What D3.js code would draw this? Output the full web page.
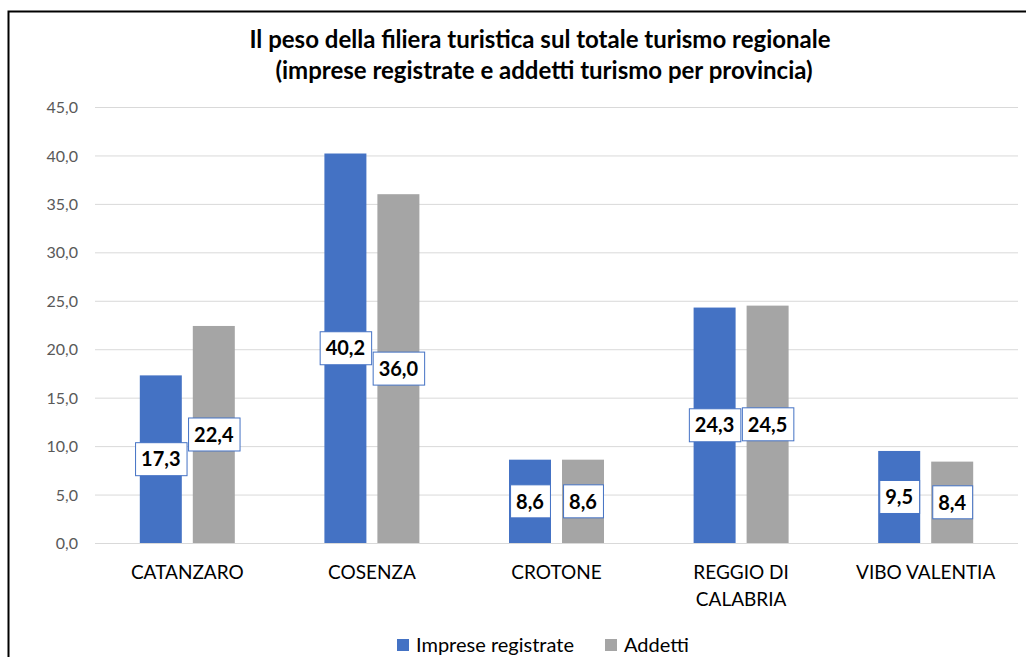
<!DOCTYPE html>
<html>
<head>
<meta charset="utf-8">
<script src="https://d3js.org/d3.v7.min.js"></script>
<style>
body { margin: 0; background: #fff; }
text { font-family: Lato, "Open Sans", sans-serif; }
.grid line { stroke: #d9d9d9; stroke-width: 1; }
.grid path { display: none; }
.yaxis text { fill: #595959; font-size: 16px; }
.yaxis path, .yaxis line { display: none; }
.xlab { fill: #000; font-size: 19px; }
.vlabel { font-size: 20px; font-weight: bold; fill: #000; }
.title { font-size: 24px; font-weight: bold; fill: #000; }
.legend text { font-size: 20px; fill: #000; }
</style>
</head>
<body>
<script>

// dati: peso della filiera turistica per provincia (%)
var province = ["CATANZARO", "COSENZA", "CROTONE", "REGGIO DI CALABRIA", "VIBO VALENTIA"];
var imprese = [17.3, 40.2, 8.6, 24.3, 9.5];
var addetti = [22.4, 36.0, 8.6, 24.5, 8.4];
var serie = ["Imprese registrate", "Addetti"];
var colori = ["#4472c4", "#a5a5a5"];
var yTicks = [0, 5, 10, 15, 20, 25, 30, 35, 40, 45];

var width = 1026,
    height = 657,
    margin = {top: 107, right: 8, bottom: 114, left: 95};

var svg = d3.select("body").append("svg")
  .attr("width", width)
  .attr("height", height);

// cornice esterna
svg.append("rect")
  .attr("x", 8.5).attr("y", 11.5)
  .attr("width", width).attr("height", height)
  .attr("fill", "none")
  .attr("stroke", "#000")
  .attr("stroke-width", 2);

var title = svg.append("text")
  .attr("class", "title")
  .attr("text-anchor", "middle");
title.append("tspan").attr("x", 540).attr("y", 48)
  .text("Il peso della filiera turistica sul totale turismo regionale");
title.append("tspan").attr("x", 544).attr("y", 79)
  .text("(imprese registrate e addetti turismo per provincia)");

var x = d3.scaleBand()
  .domain(province)
  .range([margin.left, width - margin.right]);

var y = d3.scaleLinear()
  .domain([0, 45])
  .range([height - margin.bottom, margin.top]);

var barW = 42, gap = 11;
var xs = d3.scaleOrdinal().domain([0, 1])
  .range([-gap / 2 - barW, gap / 2]);

svg.append("g")
  .attr("class", "grid")
  .attr("transform", "translate(" + margin.left + ",0)")
  .call(d3.axisRight(y).tickValues(yTicks).tickSize(x.range()[1] - margin.left).tickFormat(""));

svg.append("g")
  .attr("class", "yaxis")
  .attr("transform", "translate(81,0)")
  .call(d3.axisLeft(y).tickValues(yTicks).tickSize(0)
    .tickFormat(function(d) { return d.toFixed(1).replace(".", ","); }))
  .selectAll("text").attr("dy", "0.35em");

var rows = province.map(function(p, i) {
  return {p: p, vals: [imprese[i], addetti[i]]};
});

var groups = svg.selectAll(".cat")
  .data(rows)
  .enter().append("g")
  .attr("class", "cat")
  .attr("transform", function(d) {
    return "translate(" + (x(d.p) + x.bandwidth() / 2) + ",0)";
  });

groups.selectAll("rect.bar")
  .data(function(d) { return d.vals; })
  .enter().append("rect")
  .attr("class", "bar")
  .attr("x", function(d, i) { return xs(i); })
  .attr("y", function(d) { return y(d); })
  .attr("width", barW)
  .attr("height", function(d) { return y(0) - y(d); })
  .attr("fill", function(d, i) { return colori[i]; });

// etichette dati al centro della barra
var lab = groups.selectAll("g.lab")
  .data(function(d) { return d.vals; })
  .enter().append("g")
  .attr("class", "lab")
  .attr("transform", function(d, i) {
    return "translate(" + (xs(i) + barW / 2) + "," + y(d / 2) + ")";
  });

lab.append("rect")
  .attr("fill", "#fff")
  .attr("stroke", "#4472c4")
  .attr("stroke-width", 1);

lab.append("text")
  .attr("class", "vlabel")
  .attr("text-anchor", "middle")
  .attr("dy", "0.36em")
  .text(function(d) { return d.toFixed(1).replace(".", ","); });

lab.each(function() {
  var g = d3.select(this);
  var w = g.select("text").node().getComputedTextLength() + 12;
  g.select("rect")
    .attr("x", -w / 2 + 0.5).attr("y", -16.5)
    .attr("width", w).attr("height", 33);
});

// etichette categorie (a capo se troppo lunghe)
groups.append("text")
  .attr("class", "xlab")
  .attr("text-anchor", "middle")
  .attr("y", 579)
  .each(function(d) {
    var t = d3.select(this);
    var words = d.p.split(" "), line = [], lines = [];
    words.forEach(function(w) {
      t.text(line.concat(w).join(" "));
      if (line.length && t.node().getComputedTextLength() > 160) {
        lines.push(line.join(" "));
        line = [w];
      } else {
        line.push(w);
      }
    });
    lines.push(line.join(" "));
    t.text(null);
    lines.forEach(function(l, k) {
      t.append("tspan").attr("x", 0).attr("dy", k ? 27 : 0).text(l);
    });
  });

// legenda
var legend = svg.append("g").attr("class", "legend")
  .attr("transform", "translate(397,639)");
var lx = [0, 208];
serie.forEach(function(s, i) {
  var g = legend.append("g").attr("transform", "translate(" + lx[i] + ",0)");
  g.append("rect").attr("width", 12).attr("height", 12).attr("fill", colori[i]);
  g.append("text").attr("x", 19).attr("y", 13).text(s);
});

</script>
</body>
</html>
